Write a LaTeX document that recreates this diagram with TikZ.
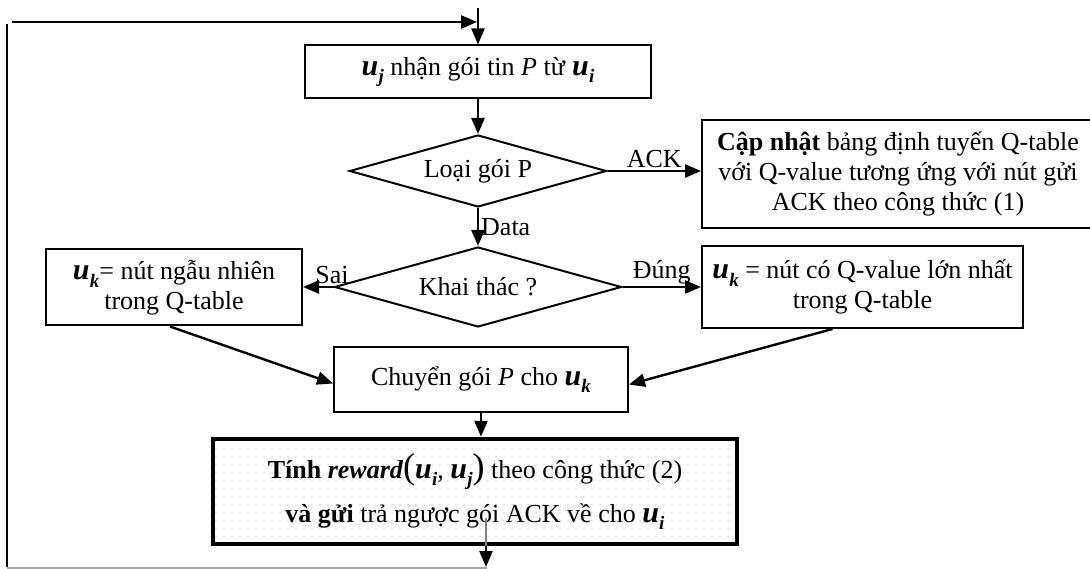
\documentclass[tikz,border=0pt]{standalone}
\usepackage{fontspec}
\setmainfont{Liberation Serif}
\usetikzlibrary{shapes.geometric,arrows.meta,patterns.meta}
\newcommand\bu[1]{{\fontsize{30}{30}\selectfont\textbf{\textit{u}}}\kern0.01em\raisebox{-0.3em}{\fontsize{19}{19}\selectfont\textbf{\textit{#1}}}}
\newcommand\bigpar[1]{{\fontsize{36}{36}\selectfont #1}}
\begin{document}
\begin{tikzpicture}[x=1pt,y=-1pt,
  font=\fontsize{26}{30}\selectfont,
  box/.style={draw, line width=2pt, inner sep=0pt, align=center},
  dia/.style={draw, diamond, line width=2pt, inner sep=0pt, aspect=3.5},
  arr/.style={-{Triangle[length=16pt,width=13pt]}, line width=2.4pt},
  lbl/.style={inner sep=2pt}]
\useasboundingbox (0,0) rectangle (1090,569);

\node[box, minimum width=346pt, minimum height=53pt] (b1) at (478,72)
  {\bu{j} nhận gói tin \textit{P} từ \bu{i}};
\node[dia, minimum width=257pt, minimum height=72pt] (d1) at (478,171) {Loại gói P};
\node[box, minimum width=392pt, minimum height=108pt] (ack) at (898,174)
  {\textbf{Cập nhật} bảng định tuyến Q-table\\ với Q-value tương ứng với nút gửi\\ ACK theo công thức (1)};
\node[dia, minimum width=287pt, minimum height=80pt] (d2) at (478,287) {Khai thác ?};
\node[box, minimum width=256pt, minimum height=76pt] (lb) at (174,287.5)
  {\bu{k}= nút ngẫu nhiên\\ trong Q-table};
\node[box, minimum width=321pt, minimum height=82pt] (rb) at (862.5,287)
  {\bu{k} = nút có Q-value lớn nhất\\ trong Q-table};
\node[box, minimum width=294pt, minimum height=65pt] (ch) at (481,379.5)
  {Chuyển gói \textit{P} cho \bu{k}};
\node[box, line width=4.5pt, minimum width=524pt, minimum height=105pt,
  pattern={Dots[distance=8pt, radius=0.9pt]}, pattern color=gray!35,
  font=\fontsize{26}{44}\selectfont] (bt) at (475,491.5)
  {\textbf{Tính} \textbf{\textit{reward}}\bigpar{(}\bu{i}, \bu{j}\bigpar{)} theo công thức (2)\\
   \textbf{và gửi} trả ngược gói ACK về cho \bu{i}};

\coordinate (in) at (478,8);
\coordinate (topL) at (12,22);
\coordinate (topR) at (477,22);
\coordinate (lvT) at (7,24);
\coordinate (lvB) at (7,567);
\coordinate (outT) at (486,518);
\coordinate (outB) at (486,567);
\coordinate (bgR) at (487,568);

\draw[arr] (in) -- (b1.north);
\draw[arr] (topL) -- (topR);
\draw[line width=2.4pt] (lvT) -- (lvB);
\draw[gray!70, line width=1.5pt] (lvB |- bgR) -- (bgR);
\draw[gray, line width=1.2pt] (outT) -- (outT |- bt.south);
\draw[arr] (outT |- bt.south) -- (outB);

\draw[arr] (b1.south) -- (d1.north);
\draw[arr] (d1.east) -- (d1.east -| ack.west) node[midway, above, lbl] {ACK};
\draw[arr] (d1.south) -- (d2.north) node[midway, right, lbl] {Data};
\draw[arr] (d2.west) -- (d2.west -| lb.east) node[pos=0.05, above, lbl] {Sai};
\draw[arr] (d2.east) -- (d2.east -| rb.west) node[midway, above, lbl] {Đúng};
\draw[arr] ([xshift=-4pt]lb.south) -- ([yshift=-4pt]ch.west);
\draw[arr] ([xshift=-30pt]rb.south) -- ([yshift=-5pt]ch.east);
\draw[arr] (ch.south) -- (ch.south |- bt.north);
\end{tikzpicture}
\end{document}
